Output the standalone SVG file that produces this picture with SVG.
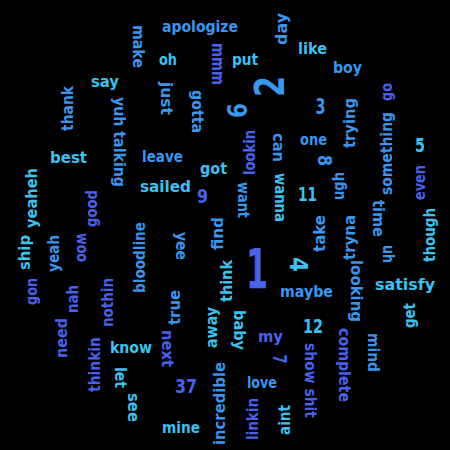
<svg xmlns="http://www.w3.org/2000/svg" width="450" height="450" viewBox="0 0 450 450">
<style>
text{font-family:"DejaVu Sans","Liberation Sans",sans-serif;font-weight:bold;font-size:16px;text-anchor:middle}
.c{fill:#3dc2f0}.s{fill:#3a96ee}.b{fill:#4862ee}
</style>
<rect width="450" height="450" fill="#000"/>
<g id="words">
<g id="w-apologize"><text class="s" x="200" y="31.5" textLength="76" lengthAdjust="spacingAndGlyphs">apologize</text></g>
<g id="w-oh"><text class="c" x="168" y="65" textLength="18" lengthAdjust="spacingAndGlyphs">oh</text></g>
<g id="w-say"><text class="c" x="105" y="86.5" textLength="28" lengthAdjust="spacingAndGlyphs">say</text></g>
<g id="w-like"><text class="c" x="312.5" y="54" textLength="29" lengthAdjust="spacingAndGlyphs">like</text></g>
<g id="w-put"><text class="c" x="245" y="64.5" textLength="26" lengthAdjust="spacingAndGlyphs">put</text></g>
<g id="w-boy"><text class="s" x="347.5" y="72.5" textLength="29" lengthAdjust="spacingAndGlyphs">boy</text></g>
<g id="w-3"><text class="s" x="320.5" y="114" style="font-size:22px" textLength="10" lengthAdjust="spacingAndGlyphs">3</text></g>
<g id="w-one"><text class="s" x="313.5" y="145" textLength="27" lengthAdjust="spacingAndGlyphs">one</text></g>
<g id="w-5"><text class="c" x="420" y="152" style="font-size:19px" textLength="10" lengthAdjust="spacingAndGlyphs">5</text></g>
<g id="w-best"><text class="c" x="68.5" y="163" textLength="37" lengthAdjust="spacingAndGlyphs">best</text></g>
<g id="w-leave"><text class="s" x="162.5" y="162" textLength="41" lengthAdjust="spacingAndGlyphs">leave</text></g>
<g id="w-got"><text class="c" x="213.5" y="173.5" textLength="27" lengthAdjust="spacingAndGlyphs">got</text></g>
<g id="w-sailed"><text class="c" x="165.5" y="192" textLength="51" lengthAdjust="spacingAndGlyphs">sailed</text></g>
<g id="w-9"><text class="b" x="202.5" y="203" style="font-size:20px" textLength="11" lengthAdjust="spacingAndGlyphs">9</text></g>
<g id="w-11"><text class="c" x="307.5" y="201" style="font-size:19px" textLength="19" lengthAdjust="spacingAndGlyphs">11</text></g>
<g id="w-1"><text class="b" x="257" y="288" style="font-size:56px" textLength="22" lengthAdjust="spacingAndGlyphs">1</text></g>
<g id="w-maybe"><text class="s" x="306.5" y="296.5" textLength="53" lengthAdjust="spacingAndGlyphs">maybe</text></g>
<g id="w-satisfy"><text class="c" x="405" y="289.5" textLength="60" lengthAdjust="spacingAndGlyphs">satisfy</text></g>
<g id="w-know"><text class="c" x="131" y="353" textLength="42" lengthAdjust="spacingAndGlyphs">know</text></g>
<g id="w-37"><text class="b" x="186" y="393" style="font-size:20px" textLength="22" lengthAdjust="spacingAndGlyphs">37</text></g>
<g id="w-mine"><text class="c" x="181" y="433" textLength="38" lengthAdjust="spacingAndGlyphs">mine</text></g>
<g id="w-my"><text class="b" x="270.5" y="341.5" textLength="25" lengthAdjust="spacingAndGlyphs">my</text></g>
<g id="w-12"><text class="c" x="313" y="333" style="font-size:20px" textLength="20" lengthAdjust="spacingAndGlyphs">12</text></g>
<g id="w-love"><text class="s" x="262" y="388" textLength="30" lengthAdjust="spacingAndGlyphs">love</text></g>

<g id="w-make"><text class="s" transform="translate(133,46.5) rotate(90)" textLength="43" lengthAdjust="spacingAndGlyphs">make</text></g>
<g id="w-mmm"><text class="b" transform="translate(212,64) rotate(90)" style="font-size:17px" textLength="42" lengthAdjust="spacingAndGlyphs">mmm</text></g>
<g id="w-just"><text class="s" transform="translate(160.5,98.5) rotate(90)" textLength="33" lengthAdjust="spacingAndGlyphs">just</text></g>
<g id="w-gotta"><text class="s" transform="translate(191.5,111.5) rotate(90)" textLength="43" lengthAdjust="spacingAndGlyphs">gotta</text></g>
<g id="w-thank"><text class="s" transform="translate(73,108.5) rotate(-90)" textLength="45" lengthAdjust="spacingAndGlyphs">thank</text></g>
<g id="w-yuh-talking"><text class="s" transform="translate(113.5,142) rotate(90)" textLength="90" lengthAdjust="spacingAndGlyphs">yuh talking</text></g>
<g id="w-day"><text class="s" transform="translate(286.5,29) rotate(-90)" textLength="32" lengthAdjust="spacingAndGlyphs">day</text></g>
<g id="w-2"><text class="s" transform="translate(284,86.5) rotate(-90)" style="font-size:41px" textLength="21" lengthAdjust="spacingAndGlyphs">2</text></g>
<g id="w-6"><text class="s" transform="translate(247,110.5) rotate(-90)" style="font-size:27px" textLength="15" lengthAdjust="spacingAndGlyphs">6</text></g>
<g id="w-trying"><text class="s" transform="translate(354.5,123) rotate(-90)" textLength="50" lengthAdjust="spacingAndGlyphs">trying</text></g>
<g id="w-go"><text class="b" transform="translate(391.5,92) rotate(-90)" textLength="18" lengthAdjust="spacingAndGlyphs">go</text></g>
<g id="w-something"><text class="s" transform="translate(391.5,153.5) rotate(-90)" textLength="83" lengthAdjust="spacingAndGlyphs">something</text></g>
<g id="w-lookin"><text class="b" transform="translate(255,152.5) rotate(-90)" textLength="45" lengthAdjust="spacingAndGlyphs">lookin</text></g>
<g id="w-can"><text class="s" transform="translate(273,147.5) rotate(90)" textLength="29" lengthAdjust="spacingAndGlyphs">can</text></g>
<g id="w-wanna"><text class="c" transform="translate(275,197.5) rotate(90)" textLength="49" lengthAdjust="spacingAndGlyphs">wanna</text></g>
<g id="w-want"><text class="s" transform="translate(238,200) rotate(90)" textLength="36" lengthAdjust="spacingAndGlyphs">want</text></g>
<g id="w-8"><text class="s" transform="translate(318,160.5) rotate(90)" style="font-size:20px" textLength="11" lengthAdjust="spacingAndGlyphs">8</text></g>
<g id="w-ugh"><text class="s" transform="translate(343.5,186) rotate(-90)" textLength="28" lengthAdjust="spacingAndGlyphs">ugh</text></g>
<g id="w-find"><text class="s" transform="translate(223,233.5) rotate(-90)" textLength="33" lengthAdjust="spacingAndGlyphs">find</text></g>
<g id="w-think"><text class="c" transform="translate(232,281) rotate(-90)" textLength="42" lengthAdjust="spacingAndGlyphs">think</text></g>
<g id="w-4"><text class="c" transform="translate(290,264.5) rotate(90)" style="font-size:25px" textLength="15" lengthAdjust="spacingAndGlyphs">4</text></g>
<g id="w-take"><text class="s" transform="translate(325,233.5) rotate(-90)" textLength="37" lengthAdjust="spacingAndGlyphs">take</text></g>
<g id="w-tryna"><text class="s" transform="translate(354.5,237.5) rotate(-90)" textLength="45" lengthAdjust="spacingAndGlyphs">tryna</text></g>
<g id="w-looking"><text class="s" transform="translate(350.5,291) rotate(90)" textLength="62" lengthAdjust="spacingAndGlyphs">looking</text></g>
<g id="w-time"><text class="s" transform="translate(373,218.5) rotate(90)" textLength="37" lengthAdjust="spacingAndGlyphs">time</text></g>
<g id="w-uh"><text class="s" transform="translate(383,254) rotate(90)" textLength="18" lengthAdjust="spacingAndGlyphs">uh</text></g>
<g id="w-even"><text class="b" transform="translate(425,182.5) rotate(-90)" textLength="35" lengthAdjust="spacingAndGlyphs">even</text></g>
<g id="w-though"><text class="c" transform="translate(434.5,235) rotate(-90)" textLength="54" lengthAdjust="spacingAndGlyphs">though</text></g>
<g id="w-yeaheh"><text class="c" transform="translate(36.5,198) rotate(-90)" textLength="60" lengthAdjust="spacingAndGlyphs">yeaheh</text></g>
<g id="w-good"><text class="b" transform="translate(96.5,208.5) rotate(-90)" textLength="37" lengthAdjust="spacingAndGlyphs">good</text></g>
<g id="w-ship"><text class="c" transform="translate(29.5,252.5) rotate(-90)" textLength="35" lengthAdjust="spacingAndGlyphs">ship</text></g>
<g id="w-yeah"><text class="s" transform="translate(58.5,253.5) rotate(-90)" textLength="37" lengthAdjust="spacingAndGlyphs">yeah</text></g>
<g id="w-woo"><text class="b" transform="translate(77,247.5) rotate(90)" textLength="29" lengthAdjust="spacingAndGlyphs">woo</text></g>
<g id="w-bloodline"><text class="s" transform="translate(145,257.5) rotate(-90)" textLength="71" lengthAdjust="spacingAndGlyphs">bloodline</text></g>
<g id="w-yee"><text class="s" transform="translate(175.5,246) rotate(90)" textLength="28" lengthAdjust="spacingAndGlyphs">yee</text></g>
<g id="w-gon"><text class="b" transform="translate(36.5,291.5) rotate(-90)" textLength="27" lengthAdjust="spacingAndGlyphs">gon</text></g>
<g id="w-nah"><text class="b" transform="translate(78,299) rotate(-90)" textLength="28" lengthAdjust="spacingAndGlyphs">nah</text></g>
<g id="w-nothin"><text class="b" transform="translate(113,302.5) rotate(-90)" textLength="49" lengthAdjust="spacingAndGlyphs">nothin</text></g>
<g id="w-true"><text class="s" transform="translate(180,307.5) rotate(-90)" textLength="35" lengthAdjust="spacingAndGlyphs">true</text></g>
<g id="w-need"><text class="b" transform="translate(67,338) rotate(-90)" textLength="40" lengthAdjust="spacingAndGlyphs">need</text></g>
<g id="w-thinkin"><text class="b" transform="translate(100,364.5) rotate(-90)" textLength="55" lengthAdjust="spacingAndGlyphs">thinkin</text></g>
<g id="w-let"><text class="c" transform="translate(115,377.5) rotate(90)" textLength="21" lengthAdjust="spacingAndGlyphs">let</text></g>
<g id="w-see"><text class="c" transform="translate(128,407.5) rotate(90)" textLength="29" lengthAdjust="spacingAndGlyphs">see</text></g>
<g id="w-next"><text class="b" transform="translate(162,348.5) rotate(90)" textLength="37" lengthAdjust="spacingAndGlyphs">next</text></g>
<g id="w-away"><text class="c" transform="translate(216.5,327.5) rotate(-90)" textLength="41" lengthAdjust="spacingAndGlyphs">away</text></g>
<g id="w-incredible"><text class="s" transform="translate(225,403.5) rotate(-90)" textLength="83" lengthAdjust="spacingAndGlyphs">incredible</text></g>
<g id="w-baby"><text class="c" transform="translate(233.5,330) rotate(90)" textLength="40" lengthAdjust="spacingAndGlyphs">baby</text></g>
<g id="w-7"><text class="b" transform="translate(273,359) rotate(90)" style="font-size:19px" textLength="9" lengthAdjust="spacingAndGlyphs">7</text></g>
<g id="w-show-shit"><text class="b" transform="translate(305,380.5) rotate(90)" textLength="75" lengthAdjust="spacingAndGlyphs">show shit</text></g>
<g id="w-complete"><text class="b" transform="translate(338.5,365) rotate(90)" textLength="74" lengthAdjust="spacingAndGlyphs">complete</text></g>
<g id="w-mind"><text class="s" transform="translate(368,352.5) rotate(90)" textLength="39" lengthAdjust="spacingAndGlyphs">mind</text></g>
<g id="w-get"><text class="c" transform="translate(414.5,315.5) rotate(-90)" textLength="25" lengthAdjust="spacingAndGlyphs">get</text></g>
<g id="w-linkin"><text class="b" transform="translate(258,419) rotate(-90)" textLength="42" lengthAdjust="spacingAndGlyphs">linkin</text></g>
<g id="w-aint"><text class="c" transform="translate(290,420) rotate(-90)" textLength="30" lengthAdjust="spacingAndGlyphs">aint</text></g>
</g>
</svg>
